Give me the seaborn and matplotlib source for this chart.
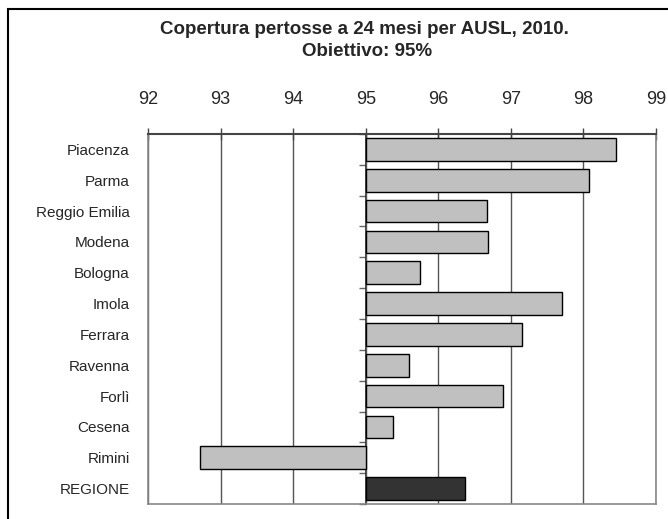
import matplotlib
matplotlib.use("Agg")
import matplotlib.pyplot as plt
import matplotlib.patches as patches
from matplotlib.ticker import FuncFormatter
import seaborn as sns
import pandas as pd

# DATA
ausl = ["Piacenza", "Parma", "Reggio Emilia", "Modena", "Bologna", "Imola",
        "Ferrara", "Ravenna", "Forlì", "Cesena", "Rimini", "REGIONE"]
copertura = [98.45, 98.08, 96.67, 96.69, 95.75, 97.70,
             97.16, 95.60, 96.89, 95.37, 92.72, 96.37]
obiettivo = 95
bar_colors = ["#C0C0C0"] * 11 + ["#333333"]
x_ticks = [92, 93, 94, 95, 96, 97, 98, 99]

sns.set_style("white")
plt.rcParams["font.family"] = ["Liberation Sans", "DejaVu Sans"]

# bars start at the target, so plot the gap from 95
df = pd.DataFrame({"ausl": ausl, "diff": [v - obiettivo for v in copertura]})

fig = plt.figure(figsize=(6.68, 5.19), dpi=100)
ax = fig.add_axes([148 / 668, 1 - 504 / 519, (656 - 148) / 668, (504 - 134) / 519])

sns.barplot(data=df, x="diff", y="ausl", hue="ausl", palette=bar_colors,
            orient="h", width=0.74, edgecolor="black", linewidth=1,
            legend=False, ax=ax, zorder=3)

ax.set_xlim(x_ticks[0] - obiettivo, x_ticks[-1] - obiettivo)
ax.set_xticks([t - obiettivo for t in x_ticks])
ax.xaxis.set_major_formatter(FuncFormatter(lambda v, p: f"{v + obiettivo:.0f}"))
ax.xaxis.tick_top()
ax.tick_params(axis="x", direction="inout", length=9, width=1, color="#444444",
               pad=14, labelsize=13)
ax.tick_params(axis="y", length=0, pad=13, labelsize=11)
ax.set_xlabel("")
ax.set_ylabel("")

ax.grid(axis="x", color="#555555", linewidth=1, zorder=0)
ax.grid(axis="y", visible=False)
ax.set_axisbelow(True)

for s in ["left", "right", "bottom"]:
    ax.spines[s].set_color("#888888")
    ax.spines[s].set_linewidth(1.2)
ax.spines["top"].set_color("#444444")
ax.spines["top"].set_linewidth(1.5)

# category axis sitting on the 95 line
sec = ax.secondary_yaxis(3 / 7)
sec.set_yticks([i + 0.5 for i in range(-1, len(ausl))])
sec.tick_params(axis="y", length=5, width=1, color="#666666", labelleft=False)
sec.spines["left"].set_color("#222222")
sec.spines["left"].set_linewidth(1.2)

fig.text(364 / 668, 1 - 30 / 519, "Copertura pertosse a 24 mesi per AUSL, 2010.",
         ha="center", va="center", fontsize=13.5, fontweight="bold")
fig.text(367 / 668, 1 - 52 / 519, "Obiettivo: 95%",
         ha="center", va="center", fontsize=13.5, fontweight="bold")

fig.patches.append(patches.Rectangle((8 / 668, -0.05), 1.0, 1 - 9 / 519 + 0.05,
                                     transform=fig.transFigure, fill=False,
                                     edgecolor="black", linewidth=1.5))

fig.savefig("out.png", dpi=100)
